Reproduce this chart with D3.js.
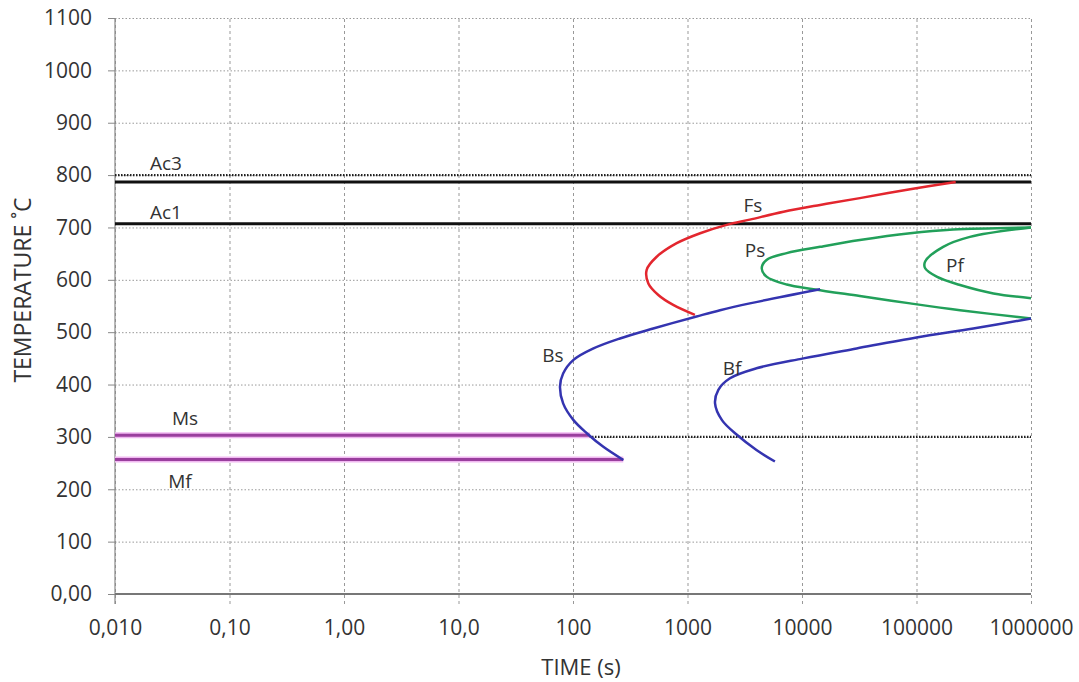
<!DOCTYPE html>
<html>
<head>
<meta charset="utf-8">
<script src="https://cdn.jsdelivr.net/npm/d3@7"></script>
<style>
  body { margin: 0; background: #fff; }
  text { font-family: "Open Sans", sans-serif; fill: #333; }
</style>
</head>
<body>
<div class="chart"></div>
<script>
// tick values and labels
var timeTicks = [0.01, 0.1, 1, 10, 100, 1000, 10000, 100000, 1000000];
var timeLabels = ["0,010", "0,10", "1,00", "10,0", "100", "1000", "10000", "100000", "1000000"];
var tempTicks = [0, 100, 200, 300, 400, 500, 600, 700, 800, 900, 1000, 1100];
var tempLabels = ["0,00", "100", "200", "300", "400", "500", "600", "700", "800", "900", "1000", "1100"];

// critical temperatures
var ac3 = 787;
var ac1 = 707;
var msTemp = 303;
var mfTemp = 257;
var dottedRefs = [800, 300];
var msEnd = 140;
var mfEnd = 275;

// curves: [time s, temperature C]
var fsCurve = [[1160, 533], [750, 552], [556, 571], [455, 593], [440, 619], [538, 644], [805, 670],
  [1290, 689], [2200, 705], [3500, 715], [6900, 730], [14400, 743], [32000, 756], [88000, 773], [220000, 787]];
var psCurve = [[1000000, 700], [209000, 696], [88000, 689], [32000, 676], [14400, 663], [7350, 651],
  [4900, 638], [4450, 622], [4900, 606], [7350, 591], [12600, 582], [32000, 569], [88000, 555],
  [240000, 542], [1000000, 526]];
var pfCurve = [[1000000, 700], [293000, 682], [171000, 663], [119000, 635], [119000, 622], [150000, 606],
  [240000, 590], [470000, 574], [1000000, 565]];
var bsCurve = [[275, 256], [184, 281], [132, 307], [101, 332], [82, 364], [77, 396], [82, 421], [101, 447],
  [151, 469], [257, 488], [502, 507], [1200, 530], [1925, 542], [3500, 555], [14400, 582]];
var bfCurve = [[5800, 253], [4000, 275], [2700, 304], [2000, 332], [1740, 364], [1860, 390], [2350, 412],
  [4000, 431], [10300, 450], [30000, 469], [100000, 490], [313000, 507], [1000000, 526]];

var svgWidth = 1079;
var svgHeight = 682;
var plotLeft = 115, plotRight = 1031, plotTop = 18, plotBottom = 594;

var svg = d3.select(".chart")
  .append("svg")
  .attr("width", svgWidth)
  .attr("height", svgHeight);

var x = d3.scaleLog().domain([0.01, 1000000]).range([plotLeft, plotRight]);
var y = d3.scaleLinear().domain([0, 1100]).range([plotBottom, plotTop]);

// horizontal grid
svg.append("g")
  .attr("transform", "translate(" + plotLeft + ",0)")
  .call(d3.axisLeft(y).tickValues(tempTicks).tickSize(-(plotRight - plotLeft)).tickFormat(""))
  .call(function(g) {
    g.select(".domain").remove();
    g.selectAll("line").attr("stroke", "#999").attr("stroke-dasharray", "1.5,2");
  });

// vertical grid, runs a little under the axis
svg.append("g")
  .attr("transform", "translate(0," + (plotBottom + 10) + ")")
  .call(d3.axisBottom(x).tickValues(timeTicks).tickSize(-(plotBottom + 10 - plotTop)).tickFormat(""))
  .call(function(g) {
    g.select(".domain").remove();
    g.selectAll("line").attr("stroke", "#999").attr("stroke-dasharray", "3,3");
  });

// small ticks left of y axis
svg.append("g")
  .attr("transform", "translate(" + plotLeft + ",0)")
  .call(d3.axisLeft(y).tickValues(tempTicks).tickSize(7).tickFormat(""))
  .call(function(g) {
    g.select(".domain").remove();
    g.selectAll("line").attr("stroke", "#888");
  });

// axis lines
svg.append("line")
  .attr("x1", plotLeft).attr("x2", plotLeft).attr("y1", plotTop).attr("y2", plotBottom + 10)
  .attr("stroke", "#888").attr("stroke-width", 1.2);
svg.append("line")
  .attr("x1", plotLeft).attr("x2", plotRight).attr("y1", plotBottom).attr("y2", plotBottom)
  .attr("stroke", "#777").attr("stroke-width", 2);

// tick labels
svg.append("g")
  .attr("transform", "translate(" + (plotLeft - 23) + ",0)")
  .call(d3.axisLeft(y).tickValues(tempTicks).tickSize(0)
    .tickFormat(function(d, i) { return tempLabels[i]; }))
  .call(function(g) {
    g.select(".domain").remove();
    g.selectAll("text").attr("font-size", 21).attr("fill", "#333")
      .attr("font-family", "Open Sans, sans-serif").attr("x", 0);
  });

svg.append("g")
  .attr("transform", "translate(0," + (plotBottom + 23) + ")")
  .call(d3.axisBottom(x).tickValues(timeTicks).tickSize(0)
    .tickFormat(function(d, i) { return timeLabels[i]; }))
  .call(function(g) {
    g.select(".domain").remove();
    g.selectAll("text").attr("font-size", 21).attr("fill", "#333")
      .attr("font-family", "Open Sans, sans-serif");
  });

// axis titles
svg.append("text")
  .attr("transform", "translate(31,290) rotate(-90)")
  .attr("text-anchor", "middle")
  .attr("font-size", 23)
  .text("TEMPERATURE ˚C");

svg.append("text")
  .attr("x", 581).attr("y", 675)
  .attr("text-anchor", "middle")
  .attr("font-size", 22)
  .text("TIME (s)");

// dotted reference lines
svg.selectAll(".ref")
  .data(dottedRefs)
  .enter().append("line")
    .attr("class", "ref")
    .attr("x1", plotLeft).attr("x2", plotRight)
    .attr("y1", function(d) { return y(d); })
    .attr("y2", function(d) { return y(d); })
    .attr("stroke", "#222")
    .attr("stroke-width", 2.2)
    .attr("stroke-dasharray", "1.5,1.5");

// Ms and Mf
var mLines = [[msTemp, msEnd], [mfTemp, mfEnd]];
svg.selectAll(".mglow")
  .data(mLines)
  .enter().append("line")
    .attr("class", "mglow")
    .attr("x1", plotLeft).attr("x2", function(d) { return x(d[1]); })
    .attr("y1", function(d) { return y(d[0]); })
    .attr("y2", function(d) { return y(d[0]); })
    .attr("stroke", "#f0b8f0").attr("stroke-width", 6);
svg.selectAll(".mline")
  .data(mLines)
  .enter().append("line")
    .attr("class", "mline")
    .attr("x1", plotLeft).attr("x2", function(d) { return x(d[1]); })
    .attr("y1", function(d) { return y(d[0]); })
    .attr("y2", function(d) { return y(d[0]); })
    .attr("stroke", "#9a3f9e").attr("stroke-width", 3);

// Ac3 and Ac1
svg.selectAll(".ac")
  .data([ac3, ac1])
  .enter().append("line")
    .attr("class", "ac")
    .attr("x1", plotLeft).attr("x2", plotRight)
    .attr("y1", function(d) { return y(d); })
    .attr("y2", function(d) { return y(d); })
    .attr("stroke", "#111")
    .attr("stroke-width", 3);

// transformation curves
var line = d3.line()
  .x(function(d) { return x(d[0]); })
  .y(function(d) { return y(d[1]); })
  .curve(d3.curveCatmullRom.alpha(0.5));

var curves = [
  { pts: fsCurve, color: "#e3262e" },
  { pts: psCurve, color: "#22a05a" },
  { pts: pfCurve, color: "#22a05a" },
  { pts: bsCurve, color: "#3434b0" },
  { pts: bfCurve, color: "#3434b0" }
];

svg.selectAll(".curve")
  .data(curves)
  .enter().append("path")
    .attr("class", "curve")
    .attr("d", function(d) { return line(d.pts); })
    .attr("fill", "none")
    .attr("stroke", function(d) { return d.color; })
    .attr("stroke-width", 2.5);

// curve labels
var labels = [
  ["Ac3", 166, 170], ["Ac1", 166, 219], ["Ms", 185, 425], ["Mf", 180, 488],
  ["Fs", 753, 212], ["Ps", 755, 257], ["Pf", 955, 272], ["Bs", 553, 362], ["Bf", 732, 375]
];
svg.selectAll(".lbl")
  .data(labels)
  .enter().append("text")
    .attr("class", "lbl")
    .attr("x", function(d) { return d[1]; })
    .attr("y", function(d) { return d[2]; })
    .attr("text-anchor", "middle")
    .attr("font-size", 19)
    .text(function(d) { return d[0]; });
</script>
</body>
</html>
